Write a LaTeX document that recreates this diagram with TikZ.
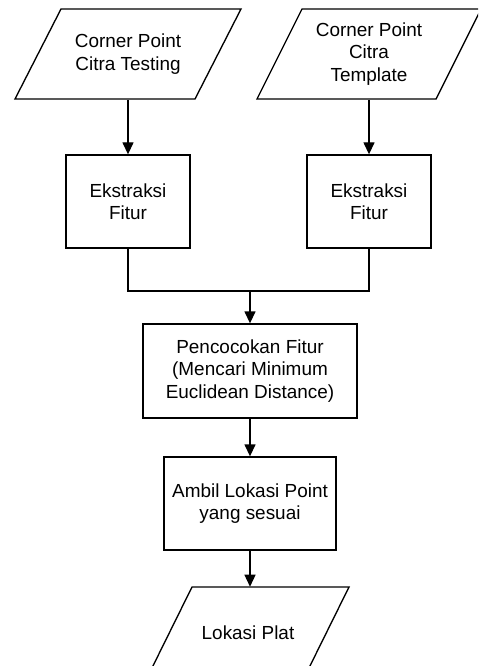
\documentclass[tikz,border=0pt]{standalone}
\usepackage{fontspec}
\setmainfont{Liberation Sans}
\usetikzlibrary{arrows.meta}
\begin{document}
\begin{tikzpicture}[x=0.75pt,y=-0.75pt,
  every node/.style={font=\fontsize{14.2}{16.8}\selectfont, align=center},
  procbox/.style={draw, line width=1pt, inner sep=2pt},
  iotext/.style={inner sep=0pt, minimum height=68.25pt, minimum width=100pt},
  iobox/.style={draw, line width=1pt, line join=miter},
  conn/.style={draw, line width=1pt},
  arrow/.style={conn, -{Triangle[width=8.25pt,length=9pt]}}]
\useasboundingbox (0,0) rectangle (478,666);
\clip (0,0) rectangle (478,666);
% input parallelograms
\draw[iobox] (61,9) -- (241,9) -- (195,99) -- (15,99) -- cycle;
\node[iotext] (p1) at (128,54) {Corner Point\\Citra Testing};
\draw[iobox] (302,9) -- (481,9) -- (436,99) -- (257,99) -- cycle;
\node[iotext] (p2) at (369,54) {Corner Point\\Citra\\Template};
% feature extraction
\node[procbox, minimum width=93pt, minimum height=69.75pt] (b1) at (128,201.5) {Ekstraksi\\Fitur};
\node[procbox, minimum width=93pt, minimum height=69.75pt] (b2) at (369,201.5) {Ekstraksi\\Fitur};
% matching
\node[procbox, minimum width=160.5pt, minimum height=70.5pt] (b3) at (250,371) {Pencocokan Fitur\\(Mencari Minimum\\Euclidean Distance)};
\node[procbox, minimum width=129pt, minimum height=69.75pt] (b4) at (250,503.5) {Ambil Lokasi Point\\yang sesuai};
% output parallelogram
\draw[iobox] (192,587) -- (349,587) -- (304,678) -- (147,678) -- cycle;
\node[iotext] (p3) at (248,632.5) {Lokasi Plat};
\coordinate (j) at (250,291);
% connectors
\draw[arrow] (p1.south) -- (b1.north);
\draw[arrow] (p2.south) -- (b2.north);
\draw[conn] (b1.south) |- (j) -| (b2.south);
\draw[arrow] (j) -- (b3.north);
\draw[arrow] (b3.south) -- (b4.north);
\draw[arrow] (b4.south) -- (b4.south|-p3.north);
\end{tikzpicture}
\end{document}
